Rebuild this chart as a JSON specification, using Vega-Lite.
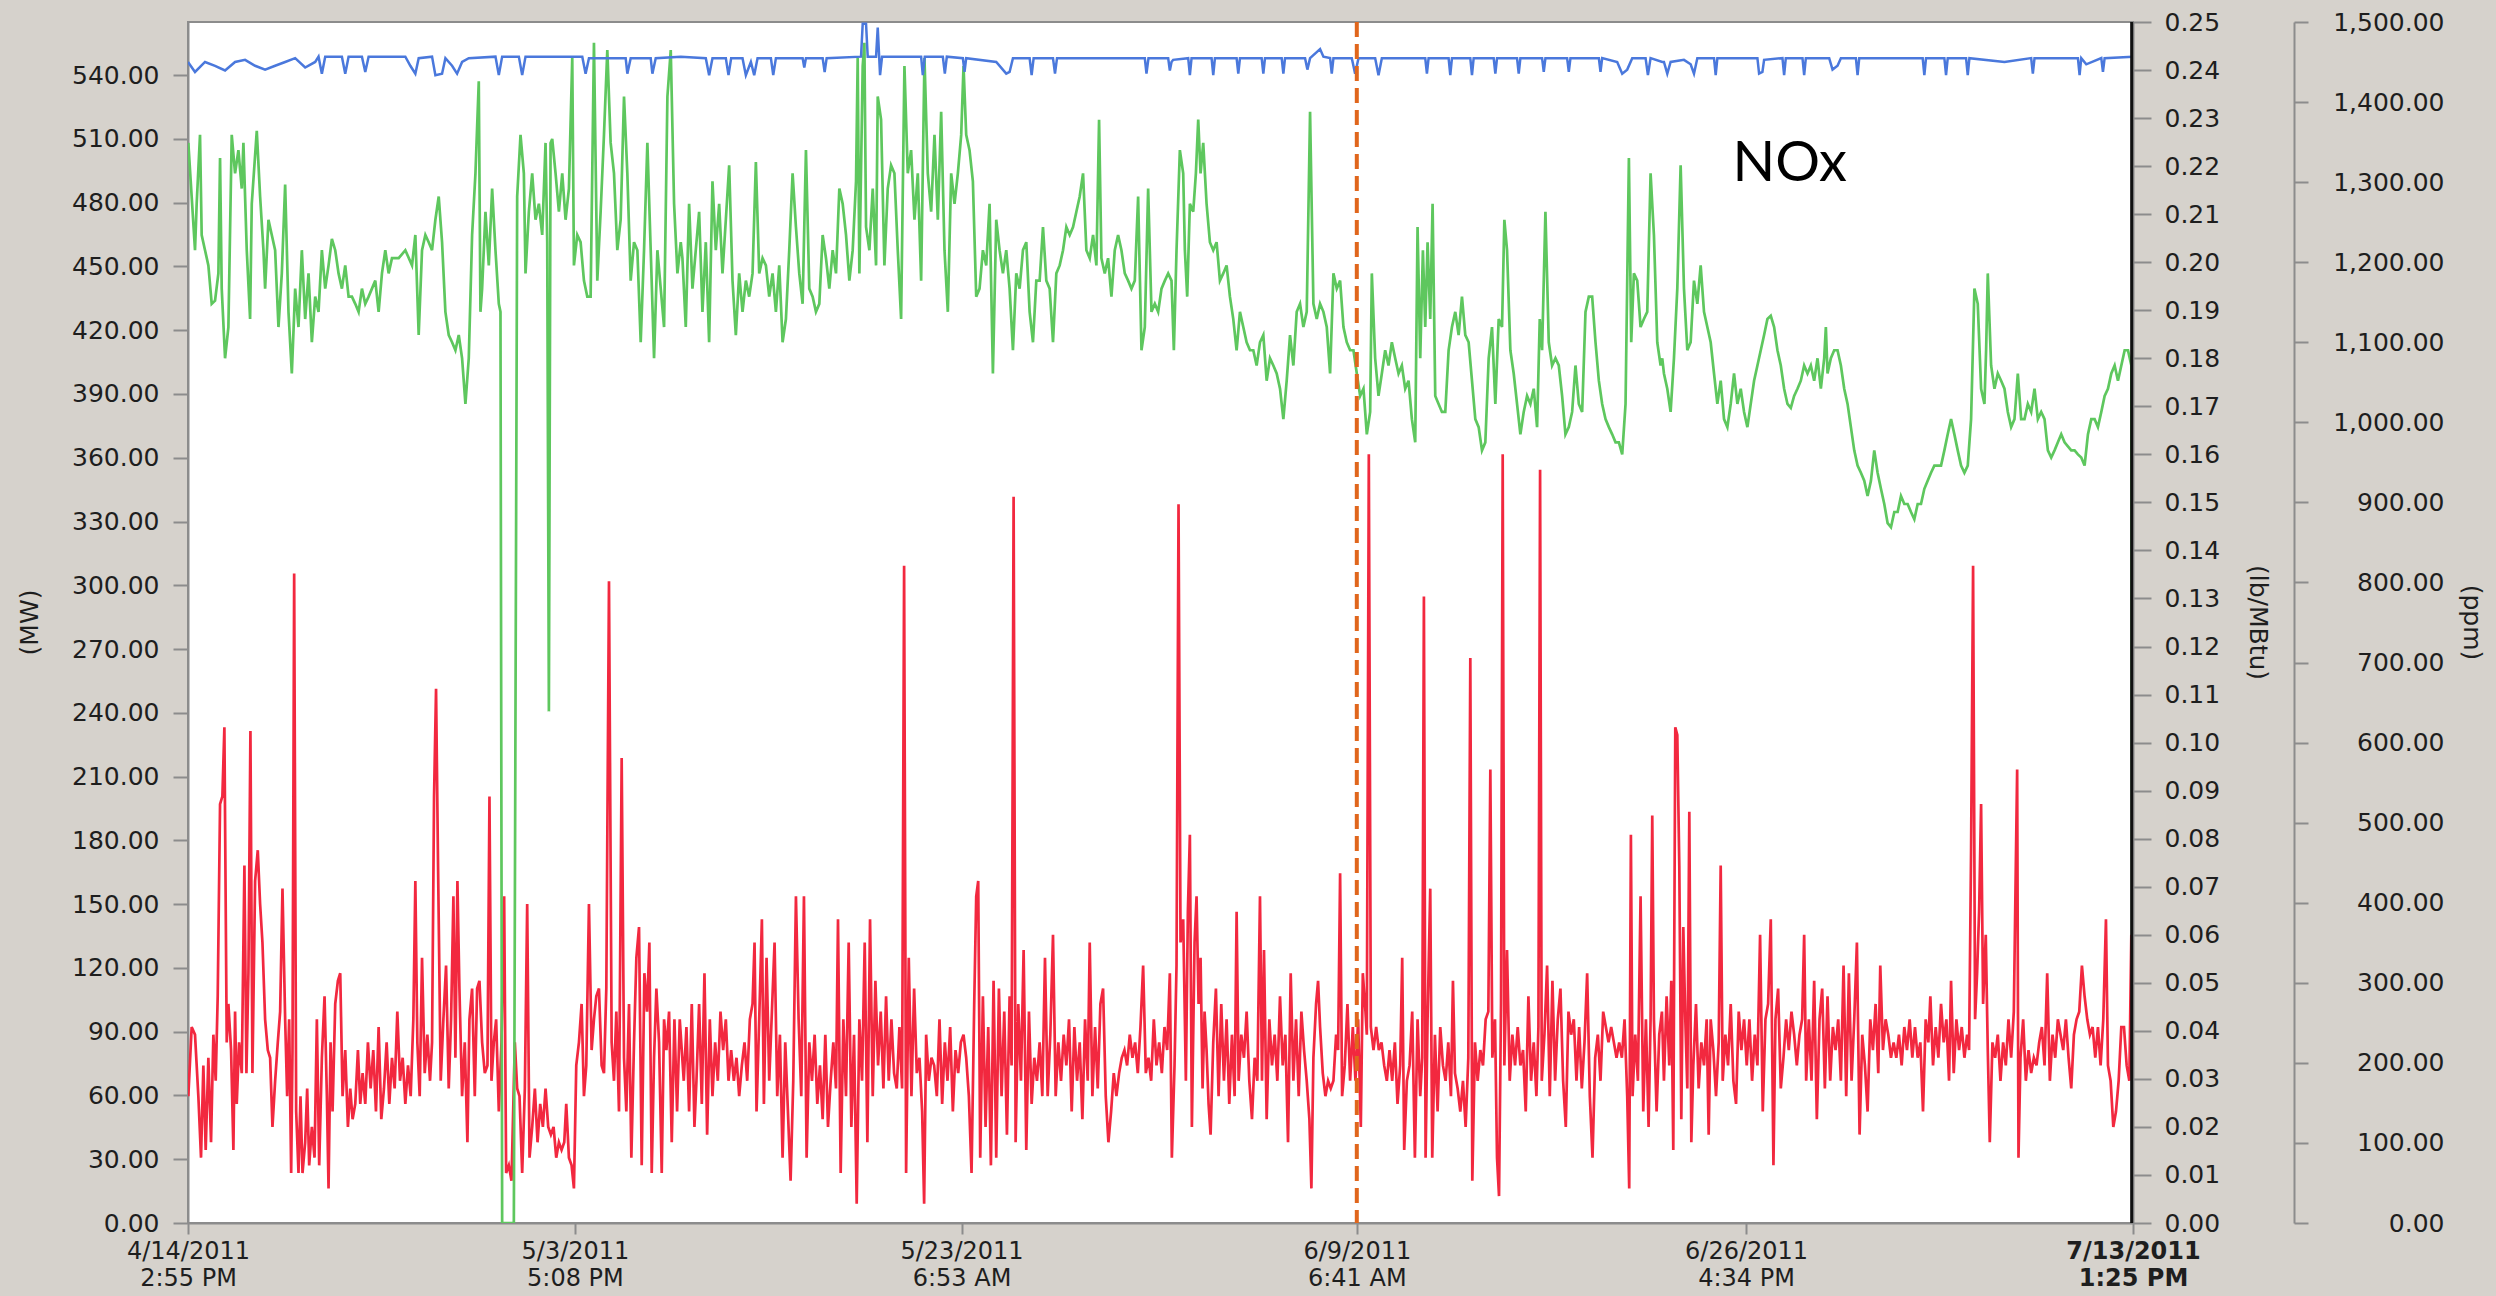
{
"$schema": "https://vega.github.io/schema/vega-lite/v6.json",
"width": 1945,
"height": 1201,
"autosize": {"type": "none"},
"padding": {"left": 188, "top": 22, "right": 363, "bottom": 73},
"background": "#d6d2cc",
"config": {
  "view": {"fill": "#ffffff", "stroke": "#8c8c8c", "strokeWidth": 2},
  "axis": {"domainColor": "#8c8c8c", "domainWidth": 2, "tickColor": "#8c8c8c", "tickWidth": 2, "labelColor": "#1e1e1e", "labelFont": "DejaVu Sans", "labelFontSize": 25, "titleFont": "DejaVu Sans", "titleFontSize": 25, "titleFontWeight": "normal", "titleColor": "#1e1e1e", "grid": false, "labelOverlap": false}
},
"datasets": {
"mw": [
{"n":0,"mw":546.2},{"n":21,"mw":541.5},{"n":51,"mw":546.2},{"n":81,"mw":544.4},{"n":111,"mw":542.2},{"n":141,"mw":546.2},{"n":171,"mw":547.2},{"n":201,"mw":544.4},{"n":231,"mw":542.6},{"n":261,"mw":544.4},{"n":291,"mw":546.2},{"n":321,"mw":548.0},{"n":351,"mw":543.6},{"n":381,"mw":546.2},{"n":391,"mw":548.7},{"n":401,"mw":540.7},{"n":411,"mw":548.7},{"n":461,"mw":548.7},{"n":471,"mw":540.7},{"n":481,"mw":548.7},{"n":521,"mw":548.7},{"n":531,"mw":541.5},{"n":541,"mw":548.7},{"n":651,"mw":548.7},{"n":666,"mw":544.4},{"n":681,"mw":540.7},{"n":691,"mw":548.0},{"n":731,"mw":548.7},{"n":741,"mw":540.0},{"n":761,"mw":540.7},{"n":771,"mw":548.0},{"n":791,"mw":544.4},{"n":806,"mw":540.7},{"n":821,"mw":546.2},{"n":841,"mw":548.0},{"n":921,"mw":548.7},{"n":931,"mw":540.0},{"n":941,"mw":548.7},{"n":991,"mw":548.7},{"n":1001,"mw":540.0},{"n":1011,"mw":548.7},{"n":1181,"mw":548.7},{"n":1191,"mw":540.7},{"n":1201,"mw":548.0},{"n":1311,"mw":548.0},{"n":1316,"mw":540.7},{"n":1326,"mw":548.0},{"n":1386,"mw":548.0},{"n":1391,"mw":540.7},{"n":1401,"mw":548.0},{"n":1476,"mw":548.7},
{"n":1551,"mw":548.0},{"n":1561,"mw":540.0},{"n":1571,"mw":548.0},{"n":1611,"mw":548.0},{"n":1619,"mw":540.0},{"n":1627,"mw":548.0},{"n":1661,"mw":548.0},{"n":1671,"mw":540.0},{"n":1686,"mw":546.2},{"n":1696,"mw":540.0},{"n":1706,"mw":548.0},{"n":1746,"mw":548.0},{"n":1753,"mw":540.0},{"n":1761,"mw":548.0},{"n":1841,"mw":548.0},{"n":1846,"mw":543.6},{"n":1851,"mw":548.0},{"n":1901,"mw":548.0},{"n":1907,"mw":541.5},{"n":1913,"mw":548.0},{"n":2016,"mw":548.7},{"n":2021,"mw":564.2},{"n":2031,"mw":564.2},{"n":2036,"mw":548.7},{"n":2061,"mw":548.7},{"n":2066,"mw":562.4},{"n":2073,"mw":540.0},{"n":2079,"mw":548.7},{"n":2196,"mw":548.7},{"n":2201,"mw":540.0},{"n":2207,"mw":548.7},{"n":2261,"mw":548.7},{"n":2267,"mw":540.7},{"n":2273,"mw":548.7},{"n":2321,"mw":548.0},{"n":2326,"mw":541.5},{"n":2331,"mw":548.0},{"n":2421,"mw":546.2},{"n":2451,"mw":540.7},{"n":2461,"mw":541.5},{"n":2471,"mw":548.0},{"n":2521,"mw":548.0},{"n":2527,"mw":540.0},{"n":2533,"mw":548.0},{"n":2591,"mw":548.0},{"n":2597,"mw":540.7},{"n":2603,"mw":548.0},{"n":2866,"mw":548.0},{"n":2871,"mw":540.7},{"n":2877,"mw":548.0},{"n":2936,"mw":548.0},{"n":2941,"mw":542.2},{"n":2946,"mw":546.2},
{"n":2951,"mw":547.2},{"n":2996,"mw":548.0},{"n":3001,"mw":540.0},{"n":3006,"mw":548.0},{"n":3066,"mw":548.0},{"n":3071,"mw":540.0},{"n":3076,"mw":548.0},{"n":3141,"mw":548.0},{"n":3146,"mw":540.7},{"n":3151,"mw":548.0},{"n":3216,"mw":548.0},{"n":3221,"mw":540.7},{"n":3226,"mw":548.0},{"n":3276,"mw":548.0},{"n":3281,"mw":540.7},{"n":3286,"mw":548.0},{"n":3346,"mw":548.0},{"n":3353,"mw":542.6},{"n":3361,"mw":548.0},{"n":3391,"mw":552.3},{"n":3401,"mw":548.7},{"n":3421,"mw":548.0},{"n":3426,"mw":540.7},{"n":3431,"mw":548.0},{"n":3486,"mw":548.0},{"n":3496,"mw":540.7},{"n":3506,"mw":548.0},{"n":3556,"mw":548.0},{"n":3566,"mw":540.0},{"n":3576,"mw":548.0},{"n":3706,"mw":548.0},{"n":3711,"mw":540.7},{"n":3716,"mw":548.0},{"n":3776,"mw":548.0},{"n":3781,"mw":540.0},{"n":3786,"mw":548.0},{"n":3841,"mw":548.0},{"n":3846,"mw":540.0},{"n":3851,"mw":548.0},{"n":3911,"mw":548.0},{"n":3916,"mw":540.7},{"n":3921,"mw":548.0},{"n":3981,"mw":548.0},{"n":3986,"mw":540.7},{"n":3991,"mw":548.0},{"n":4056,"mw":548.0},{"n":4061,"mw":541.5},{"n":4066,"mw":548.0},{"n":4131,"mw":548.0},{"n":4136,"mw":541.5},{"n":4141,"mw":548.0},{"n":4226,"mw":548.0},{"n":4231,"mw":541.5},{"n":4236,"mw":548.0},{"n":4281,"mw":546.2},{"n":4296,"mw":540.7},{"n":4311,"mw":542.6},{"n":4326,"mw":548.0},{"n":4366,"mw":548.0},{"n":4373,"mw":540.0},{"n":4381,"mw":548.0},{"n":4416,"mw":546.2},
{"n":4421,"mw":546.2},{"n":4431,"mw":540.7},{"n":4441,"mw":546.2},{"n":4481,"mw":547.2},{"n":4501,"mw":545.1},{"n":4511,"mw":540.7},{"n":4521,"mw":548.0},{"n":4571,"mw":548.0},{"n":4576,"mw":540.0},{"n":4581,"mw":548.0},{"n":4701,"mw":548.0},{"n":4706,"mw":540.7},{"n":4716,"mw":541.5},{"n":4721,"mw":547.2},{"n":4776,"mw":548.0},{"n":4781,"mw":540.0},{"n":4786,"mw":548.0},{"n":4836,"mw":548.0},{"n":4841,"mw":540.0},{"n":4846,"mw":548.0},{"n":4916,"mw":548.0},{"n":4926,"mw":542.6},{"n":4941,"mw":544.4},{"n":4951,"mw":548.0},{"n":4996,"mw":548.0},{"n":5001,"mw":540.0},{"n":5006,"mw":548.0},{"n":5196,"mw":548.0},{"n":5201,"mw":540.0},{"n":5206,"mw":548.0},{"n":5261,"mw":548.0},{"n":5266,"mw":540.0},{"n":5271,"mw":548.0},{"n":5326,"mw":548.0},{"n":5331,"mw":540.0},{"n":5336,"mw":548.0},{"n":5441,"mw":546.2},{"n":5521,"mw":548.0},{"n":5526,"mw":540.7},{"n":5531,"mw":548.0},{"n":5661,"mw":548.0},{"n":5666,"mw":540.0},{"n":5671,"mw":548.0},{"n":5686,"mw":545.1},{"n":5731,"mw":548.0},{"n":5736,"mw":541.5},{"n":5741,"mw":548.0},{"n":5826,"mw":548.7}
],
"ppm": [
{"n":1,"ppm":1349},{"n":11,"ppm":1282},{"n":21,"ppm":1215},{"n":26,"ppm":1273},{"n":36,"ppm":1359},{"n":41,"ppm":1234},{"n":51,"ppm":1215},{"n":61,"ppm":1196},{"n":71,"ppm":1148},{"n":81,"ppm":1152},{"n":91,"ppm":1186},{"n":96,"ppm":1330},{"n":101,"ppm":1167},{"n":111,"ppm":1080},{"n":121,"ppm":1119},{"n":131,"ppm":1359},{"n":141,"ppm":1311},{"n":151,"ppm":1340},{"n":161,"ppm":1292},{"n":166,"ppm":1349},{"n":176,"ppm":1215},{"n":186,"ppm":1129},{"n":191,"ppm":1273},{"n":206,"ppm":1364},{"n":216,"ppm":1282},{"n":226,"ppm":1215},{"n":231,"ppm":1167},{"n":241,"ppm":1253},{"n":251,"ppm":1234},{"n":261,"ppm":1215},{"n":271,"ppm":1119},{"n":281,"ppm":1186},{"n":291,"ppm":1297},{"n":301,"ppm":1138},{"n":311,"ppm":1061},{"n":321,"ppm":1167},{"n":331,"ppm":1119},{"n":341,"ppm":1215},{"n":351,"ppm":1129},{"n":361,"ppm":1186},{"n":371,"ppm":1100},{"n":381,"ppm":1157},{"n":391,"ppm":1138},{"n":401,"ppm":1215},{"n":411,"ppm":1167},{"n":421,"ppm":1196},{"n":431,"ppm":1229},{"n":441,"ppm":1215},{"n":451,"ppm":1186},{"n":461,"ppm":1167},{"n":471,"ppm":1196},{"n":481,"ppm":1157},{"n":491,"ppm":1157},{"n":501,"ppm":1148},{"n":511,"ppm":1138},{"n":521,"ppm":1167},{"n":531,"ppm":1148},{"n":541,"ppm":1157},{"n":551,"ppm":1167},{"n":561,"ppm":1177},{"n":571,"ppm":1138},{"n":581,"ppm":1186},{"n":591,"ppm":1215},{"n":601,"ppm":1186},{"n":611,"ppm":1205},{"n":631,"ppm":1205},{"n":651,"ppm":1215},{"n":671,"ppm":1196},{"n":681,"ppm":1234},{"n":691,"ppm":1109},{"n":701,"ppm":1215},{"n":711,"ppm":1234},{"n":721,"ppm":1225},{"n":731,"ppm":1215},{"n":741,"ppm":1253},{"n":751,"ppm":1282},{"n":761,"ppm":1225},{"n":771,"ppm":1138},{"n":781,"ppm":1109},{"n":791,"ppm":1100},{"n":801,"ppm":1090},{"n":811,"ppm":1109},{"n":821,"ppm":1080},{"n":831,"ppm":1023},{"n":841,"ppm":1080},{"n":851,"ppm":1234},{"n":861,"ppm":1311},{"n":871,"ppm":1426},{"n":876,"ppm":1138},{"n":881,"ppm":1167},{"n":891,"ppm":1263},{"n":901,"ppm":1196},{"n":911,"ppm":1292},{"n":921,"ppm":1215},{"n":931,"ppm":1148},{"n":936,"ppm":1138},{"n":941,"ppm":0},{"n":976,"ppm":0},{"n":986,"ppm":1282},{"n":996,"ppm":1359},{"n":1006,"ppm":1311},{"n":1011,"ppm":1186},{"n":1021,"ppm":1263},{"n":1031,"ppm":1311},{"n":1041,"ppm":1253},{"n":1051,"ppm":1273},{"n":1061,"ppm":1234},{"n":1071,"ppm":1349},{"n":1076,"ppm":1225},{"n":1081,"ppm":639},{"n":1086,"ppm":1349},{"n":1091,"ppm":1354},{"n":1101,"ppm":1311},{"n":1111,"ppm":1263},{"n":1121,"ppm":1311},{"n":1131,"ppm":1253},{"n":1141,"ppm":1292},{"n":1151,"ppm":1455},{"n":1156,"ppm":1196},{"n":1166,"ppm":1234},{"n":1176,"ppm":1225},{"n":1186,"ppm":1177},{"n":1196,"ppm":1157},{"n":1206,"ppm":1157},{"n":1216,"ppm":1474},{"n":1226,"ppm":1177},{"n":1236,"ppm":1263},{"n":1246,"ppm":1359},{"n":1256,"ppm":1465},{"n":1266,"ppm":1349},{"n":1276,"ppm":1311},{"n":1286,"ppm":1215},{"n":1296,"ppm":1253},{"n":1306,"ppm":1407},{"n":1316,"ppm":1311},{"n":1326,"ppm":1177},{"n":1336,"ppm":1225},{"n":1346,"ppm":1215},{"n":1356,"ppm":1100},{"n":1366,"ppm":1215},{"n":1376,"ppm":1349},{"n":1386,"ppm":1215},{"n":1396,"ppm":1080},{"n":1406,"ppm":1215},{"n":1416,"ppm":1167},{"n":1426,"ppm":1119},{"n":1436,"ppm":1407},{"n":1446,"ppm":1465},{"n":1456,"ppm":1273},{"n":1466,"ppm":1186},{"n":1476,"ppm":1225},
{"n":1481,"ppm":1205},{"n":1491,"ppm":1119},{"n":1501,"ppm":1273},{"n":1511,"ppm":1167},{"n":1521,"ppm":1215},{"n":1531,"ppm":1263},{"n":1541,"ppm":1138},{"n":1551,"ppm":1225},{"n":1561,"ppm":1100},{"n":1571,"ppm":1301},{"n":1581,"ppm":1215},{"n":1591,"ppm":1273},{"n":1601,"ppm":1186},{"n":1611,"ppm":1253},{"n":1621,"ppm":1321},{"n":1631,"ppm":1177},{"n":1641,"ppm":1109},{"n":1651,"ppm":1186},{"n":1661,"ppm":1138},{"n":1671,"ppm":1177},{"n":1681,"ppm":1157},{"n":1691,"ppm":1186},{"n":1701,"ppm":1325},{"n":1711,"ppm":1186},{"n":1721,"ppm":1205},{"n":1731,"ppm":1196},{"n":1741,"ppm":1157},{"n":1751,"ppm":1186},{"n":1761,"ppm":1138},{"n":1771,"ppm":1196},{"n":1781,"ppm":1100},{"n":1791,"ppm":1129},{"n":1801,"ppm":1215},{"n":1811,"ppm":1311},{"n":1821,"ppm":1244},{"n":1831,"ppm":1186},{"n":1841,"ppm":1148},{"n":1851,"ppm":1340},{"n":1861,"ppm":1167},{"n":1871,"ppm":1157},{"n":1881,"ppm":1138},{"n":1891,"ppm":1148},{"n":1901,"ppm":1234},{"n":1911,"ppm":1205},{"n":1921,"ppm":1167},{"n":1931,"ppm":1215},{"n":1941,"ppm":1186},{"n":1951,"ppm":1292},{"n":1961,"ppm":1273},{"n":1971,"ppm":1234},{"n":1981,"ppm":1177},{"n":1991,"ppm":1215},{"n":2001,"ppm":1301},{"n":2006,"ppm":1455},{"n":2011,"ppm":1186},{"n":2021,"ppm":1445},{"n":2026,"ppm":1474},{"n":2031,"ppm":1244},{"n":2041,"ppm":1215},{"n":2051,"ppm":1292},{"n":2061,"ppm":1196},{"n":2066,"ppm":1407},{"n":2076,"ppm":1378},{"n":2086,"ppm":1196},{"n":2096,"ppm":1292},{"n":2106,"ppm":1321},{"n":2116,"ppm":1311},{"n":2126,"ppm":1215},{"n":2136,"ppm":1129},{"n":2146,"ppm":1445},{"n":2156,"ppm":1311},{"n":2166,"ppm":1340},{"n":2176,"ppm":1253},{"n":2186,"ppm":1311},{"n":2196,"ppm":1177},{"n":2206,"ppm":1455},{"n":2216,"ppm":1311},{"n":2226,"ppm":1263},{"n":2236,"ppm":1359},{"n":2246,"ppm":1253},{"n":2256,"ppm":1388},{"n":2266,"ppm":1215},{"n":2276,"ppm":1138},{"n":2286,"ppm":1311},{"n":2296,"ppm":1273},{"n":2306,"ppm":1311},{"n":2316,"ppm":1359},{"n":2323,"ppm":1445},{"n":2331,"ppm":1359},{"n":2341,"ppm":1340},{"n":2351,"ppm":1301},{"n":2361,"ppm":1157},{"n":2371,"ppm":1167},{"n":2381,"ppm":1215},{"n":2391,"ppm":1196},{"n":2401,"ppm":1273},{"n":2411,"ppm":1061},{"n":2421,"ppm":1253},{"n":2431,"ppm":1215},{"n":2441,"ppm":1186},{"n":2451,"ppm":1215},{"n":2461,"ppm":1167},{"n":2471,"ppm":1090},{"n":2481,"ppm":1186},{"n":2491,"ppm":1167},{"n":2501,"ppm":1215},{"n":2511,"ppm":1225},{"n":2521,"ppm":1138},{"n":2531,"ppm":1100},{"n":2541,"ppm":1177},{"n":2551,"ppm":1177},{"n":2561,"ppm":1244},{"n":2571,"ppm":1177},{"n":2581,"ppm":1167},{"n":2591,"ppm":1100},{"n":2601,"ppm":1186},{"n":2611,"ppm":1196},{"n":2621,"ppm":1215},{"n":2631,"ppm":1244},{"n":2641,"ppm":1234},{"n":2651,"ppm":1244},{"n":2661,"ppm":1263},{"n":2671,"ppm":1282},{"n":2681,"ppm":1311},{"n":2691,"ppm":1215},{"n":2701,"ppm":1205},{"n":2711,"ppm":1234},{"n":2721,"ppm":1196},{"n":2729,"ppm":1378},{"n":2736,"ppm":1205},{"n":2746,"ppm":1186},{"n":2756,"ppm":1205},{"n":2766,"ppm":1157},{"n":2776,"ppm":1215},{"n":2786,"ppm":1234},{"n":2796,"ppm":1215},{"n":2806,"ppm":1186},{"n":2816,"ppm":1177},{"n":2826,"ppm":1167},{"n":2836,"ppm":1177},{"n":2846,"ppm":1282},{"n":2856,"ppm":1090},{"n":2866,"ppm":1119},{"n":2876,"ppm":1292},{"n":2886,"ppm":1138},{"n":2896,"ppm":1148},{"n":2906,"ppm":1138},{"n":2916,"ppm":1167},{"n":2926,"ppm":1177},{"n":2936,"ppm":1186},{"n":2946,"ppm":1177},
{"n":2953,"ppm":1090},{"n":2961,"ppm":1215},{"n":2971,"ppm":1340},{"n":2981,"ppm":1311},{"n":2986,"ppm":1215},{"n":2993,"ppm":1157},{"n":3001,"ppm":1273},{"n":3011,"ppm":1263},{"n":3019,"ppm":1311},{"n":3026,"ppm":1378},{"n":3033,"ppm":1311},{"n":3041,"ppm":1349},{"n":3051,"ppm":1273},{"n":3061,"ppm":1225},{"n":3071,"ppm":1215},{"n":3081,"ppm":1225},{"n":3091,"ppm":1177},{"n":3101,"ppm":1186},{"n":3111,"ppm":1196},{"n":3121,"ppm":1157},{"n":3131,"ppm":1129},{"n":3141,"ppm":1090},{"n":3151,"ppm":1138},{"n":3161,"ppm":1119},{"n":3171,"ppm":1100},{"n":3181,"ppm":1090},{"n":3191,"ppm":1090},{"n":3201,"ppm":1071},{"n":3211,"ppm":1100},{"n":3221,"ppm":1109},{"n":3231,"ppm":1052},{"n":3241,"ppm":1080},{"n":3251,"ppm":1071},{"n":3261,"ppm":1061},{"n":3271,"ppm":1042},{"n":3281,"ppm":1004},{"n":3291,"ppm":1052},{"n":3301,"ppm":1109},{"n":3311,"ppm":1071},{"n":3321,"ppm":1138},{"n":3331,"ppm":1148},{"n":3341,"ppm":1119},{"n":3351,"ppm":1138},{"n":3361,"ppm":1388},{"n":3371,"ppm":1148},{"n":3381,"ppm":1129},{"n":3391,"ppm":1148},{"n":3401,"ppm":1138},{"n":3411,"ppm":1119},{"n":3421,"ppm":1061},{"n":3431,"ppm":1186},{"n":3441,"ppm":1167},{"n":3451,"ppm":1177},{"n":3461,"ppm":1119},{"n":3471,"ppm":1100},{"n":3481,"ppm":1090},{"n":3491,"ppm":1090},{"n":3501,"ppm":1061},{"n":3511,"ppm":1033},{"n":3521,"ppm":1042},{"n":3531,"ppm":985},{"n":3541,"ppm":1013},{"n":3546,"ppm":1186},{"n":3556,"ppm":1080},{"n":3566,"ppm":1033},{"n":3576,"ppm":1061},{"n":3586,"ppm":1090},{"n":3596,"ppm":1071},{"n":3606,"ppm":1100},{"n":3616,"ppm":1080},{"n":3626,"ppm":1061},{"n":3636,"ppm":1071},{"n":3646,"ppm":1042},{"n":3656,"ppm":1052},{"n":3666,"ppm":1004},{"n":3676,"ppm":975},{"n":3683,"ppm":1244},{"n":3691,"ppm":1080},{"n":3699,"ppm":1215},{"n":3706,"ppm":1119},{"n":3713,"ppm":1225},{"n":3721,"ppm":1129},{"n":3728,"ppm":1273},{"n":3736,"ppm":1033},{"n":3746,"ppm":1023},{"n":3756,"ppm":1013},{"n":3766,"ppm":1013},{"n":3776,"ppm":1090},{"n":3786,"ppm":1119},{"n":3796,"ppm":1138},{"n":3806,"ppm":1109},{"n":3816,"ppm":1157},{"n":3826,"ppm":1109},{"n":3836,"ppm":1100},{"n":3846,"ppm":1052},{"n":3856,"ppm":1004},{"n":3866,"ppm":994},{"n":3876,"ppm":965},{"n":3886,"ppm":975},{"n":3896,"ppm":1080},{"n":3906,"ppm":1119},{"n":3916,"ppm":1023},{"n":3926,"ppm":1129},{"n":3936,"ppm":1119},{"n":3943,"ppm":1253},{"n":3951,"ppm":1215},{"n":3961,"ppm":1090},{"n":3971,"ppm":1061},{"n":3981,"ppm":1023},{"n":3991,"ppm":985},{"n":4001,"ppm":1013},{"n":4011,"ppm":1033},{"n":4021,"ppm":1023},{"n":4031,"ppm":1042},{"n":4041,"ppm":994},{"n":4049,"ppm":1129},{"n":4056,"ppm":1090},{"n":4066,"ppm":1263},{"n":4076,"ppm":1100},{"n":4086,"ppm":1071},{"n":4096,"ppm":1080},{"n":4106,"ppm":1071},{"n":4116,"ppm":1033},{"n":4126,"ppm":985},{"n":4136,"ppm":994},{"n":4146,"ppm":1013},{"n":4156,"ppm":1071},{"n":4166,"ppm":1023},{"n":4176,"ppm":1013},{"n":4186,"ppm":1138},{"n":4196,"ppm":1157},{"n":4206,"ppm":1157},{"n":4216,"ppm":1100},{"n":4226,"ppm":1052},{"n":4236,"ppm":1023},{"n":4246,"ppm":1004},{"n":4256,"ppm":994},{"n":4266,"ppm":985},{"n":4276,"ppm":975},{"n":4286,"ppm":975},{"n":4296,"ppm":960},{"n":4306,"ppm":1023},{"n":4316,"ppm":1330},{"n":4323,"ppm":1100},{"n":4331,"ppm":1186},{"n":4341,"ppm":1177},{"n":4351,"ppm":1119},{"n":4361,"ppm":1129},{"n":4371,"ppm":1138},{"n":4381,"ppm":1311},{"n":4391,"ppm":1234},{"n":4401,"ppm":1100},{"n":4411,"ppm":1071},{"n":4416,"ppm":1080},
{"n":4421,"ppm":1061},{"n":4431,"ppm":1042},{"n":4441,"ppm":1013},{"n":4451,"ppm":1080},{"n":4461,"ppm":1167},{"n":4471,"ppm":1321},{"n":4481,"ppm":1167},{"n":4491,"ppm":1090},{"n":4501,"ppm":1100},{"n":4511,"ppm":1177},{"n":4521,"ppm":1148},{"n":4531,"ppm":1196},{"n":4541,"ppm":1138},{"n":4551,"ppm":1119},{"n":4561,"ppm":1100},{"n":4571,"ppm":1061},{"n":4581,"ppm":1023},{"n":4591,"ppm":1052},{"n":4601,"ppm":1004},{"n":4611,"ppm":994},{"n":4621,"ppm":1023},{"n":4631,"ppm":1061},{"n":4641,"ppm":1023},{"n":4651,"ppm":1042},{"n":4661,"ppm":1013},{"n":4671,"ppm":994},{"n":4681,"ppm":1023},{"n":4691,"ppm":1052},{"n":4701,"ppm":1071},{"n":4711,"ppm":1090},{"n":4721,"ppm":1109},{"n":4731,"ppm":1129},{"n":4741,"ppm":1133},{"n":4751,"ppm":1119},{"n":4761,"ppm":1090},{"n":4771,"ppm":1071},{"n":4781,"ppm":1042},{"n":4791,"ppm":1023},{"n":4801,"ppm":1018},{"n":4811,"ppm":1033},{"n":4821,"ppm":1042},{"n":4831,"ppm":1052},{"n":4841,"ppm":1071},{"n":4851,"ppm":1061},{"n":4861,"ppm":1071},{"n":4871,"ppm":1052},{"n":4881,"ppm":1080},{"n":4891,"ppm":1042},{"n":4901,"ppm":1080},{"n":4906,"ppm":1119},{"n":4911,"ppm":1061},{"n":4921,"ppm":1080},{"n":4931,"ppm":1090},{"n":4941,"ppm":1090},{"n":4951,"ppm":1071},{"n":4961,"ppm":1042},{"n":4971,"ppm":1023},{"n":4981,"ppm":994},{"n":4991,"ppm":965},{"n":5001,"ppm":946},{"n":5011,"ppm":937},{"n":5021,"ppm":927},{"n":5031,"ppm":908},{"n":5041,"ppm":927},{"n":5051,"ppm":965},{"n":5061,"ppm":937},{"n":5071,"ppm":917},{"n":5081,"ppm":898},{"n":5091,"ppm":874},{"n":5101,"ppm":869},{"n":5111,"ppm":888},{"n":5121,"ppm":888},{"n":5131,"ppm":908},{"n":5141,"ppm":898},{"n":5151,"ppm":898},{"n":5161,"ppm":888},{"n":5171,"ppm":879},{"n":5181,"ppm":898},{"n":5191,"ppm":898},{"n":5201,"ppm":917},{"n":5211,"ppm":927},{"n":5221,"ppm":937},{"n":5231,"ppm":946},{"n":5241,"ppm":946},{"n":5251,"ppm":946},{"n":5261,"ppm":965},{"n":5271,"ppm":985},{"n":5281,"ppm":1004},{"n":5291,"ppm":985},{"n":5301,"ppm":965},{"n":5311,"ppm":946},{"n":5321,"ppm":937},{"n":5331,"ppm":946},{"n":5341,"ppm":1004},{"n":5351,"ppm":1167},{"n":5361,"ppm":1148},{"n":5371,"ppm":1042},{"n":5381,"ppm":1023},{"n":5386,"ppm":1090},{"n":5391,"ppm":1186},{"n":5401,"ppm":1071},{"n":5411,"ppm":1042},{"n":5421,"ppm":1061},{"n":5431,"ppm":1052},{"n":5441,"ppm":1042},{"n":5451,"ppm":1013},{"n":5461,"ppm":994},{"n":5471,"ppm":1004},{"n":5481,"ppm":1061},{"n":5491,"ppm":1004},{"n":5501,"ppm":1004},{"n":5511,"ppm":1023},{"n":5521,"ppm":1013},{"n":5531,"ppm":1042},{"n":5541,"ppm":1004},{"n":5551,"ppm":1013},{"n":5561,"ppm":1004},{"n":5571,"ppm":965},{"n":5581,"ppm":956},{"n":5591,"ppm":965},{"n":5601,"ppm":975},{"n":5611,"ppm":985},{"n":5621,"ppm":975},{"n":5631,"ppm":970},{"n":5641,"ppm":965},{"n":5651,"ppm":965},{"n":5661,"ppm":960},{"n":5671,"ppm":956},{"n":5681,"ppm":946},{"n":5691,"ppm":985},{"n":5701,"ppm":1004},{"n":5711,"ppm":1004},{"n":5721,"ppm":994},{"n":5731,"ppm":1013},{"n":5741,"ppm":1033},{"n":5751,"ppm":1042},{"n":5761,"ppm":1061},{"n":5771,"ppm":1071},{"n":5781,"ppm":1052},{"n":5791,"ppm":1071},{"n":5801,"ppm":1090},{"n":5811,"ppm":1090},{"n":5821,"ppm":1071},{"n":5825,"ppm":0}
],
"lb": [
{"n":1,"lb":0.0264},{"n":11,"lb":0.0408},{"n":21,"lb":0.0392},{"n":31,"lb":0.0264},{"n":39,"lb":0.0136},{"n":46,"lb":0.0328},{"n":53,"lb":0.0152},{"n":61,"lb":0.0344},{"n":69,"lb":0.0168},{"n":76,"lb":0.0392},{"n":83,"lb":0.0296},{"n":89,"lb":0.0472},{"n":96,"lb":0.0872},{"n":103,"lb":0.0888},{"n":109,"lb":0.1032},{"n":116,"lb":0.0376},{"n":121,"lb":0.0456},{"n":129,"lb":0.036},{"n":136,"lb":0.0152},{"n":141,"lb":0.044},{"n":146,"lb":0.0248},{"n":153,"lb":0.0376},{"n":161,"lb":0.0312},{"n":169,"lb":0.0744},{"n":175,"lb":0.0312},{"n":181,"lb":0.052},{"n":187,"lb":0.1024},{"n":193,"lb":0.0312},{"n":201,"lb":0.0712},{"n":209,"lb":0.0776},{"n":216,"lb":0.0664},{"n":223,"lb":0.0584},{"n":231,"lb":0.0424},{"n":239,"lb":0.036},{"n":246,"lb":0.0344},{"n":253,"lb":0.02},{"n":261,"lb":0.0296},{"n":269,"lb":0.0376},{"n":276,"lb":0.044},{"n":283,"lb":0.0696},{"n":291,"lb":0.0424},{"n":297,"lb":0.0264},{"n":303,"lb":0.0424},{"n":309,"lb":0.0104},{"n":313,"lb":0.036},{"n":318,"lb":0.1352},{"n":324,"lb":0.0232},{"n":331,"lb":0.0104},{"n":337,"lb":0.0264},{"n":343,"lb":0.0104},{"n":351,"lb":0.0168},{"n":357,"lb":0.028},{"n":363,"lb":0.012},{"n":371,"lb":0.02},{"n":379,"lb":0.0136},{"n":386,"lb":0.0424},{"n":393,"lb":0.012},{"n":401,"lb":0.0344},{"n":409,"lb":0.0472},{"n":416,"lb":0.0264},{"n":421,"lb":0.0072},{"n":427,"lb":0.0376},{"n":433,"lb":0.0232},{"n":441,"lb":0.0456},{"n":449,"lb":0.0504},{"n":456,"lb":0.052},{"n":463,"lb":0.0264},{"n":471,"lb":0.036},{"n":479,"lb":0.02},{"n":486,"lb":0.028},{"n":493,"lb":0.0216},{"n":501,"lb":0.0248},{"n":509,"lb":0.036},{"n":516,"lb":0.0248},{"n":523,"lb":0.0312},{"n":531,"lb":0.0248},{"n":539,"lb":0.0376},{"n":547,"lb":0.028},{"n":555,"lb":0.036},{"n":563,"lb":0.0232},{"n":571,"lb":0.0408},{"n":579,"lb":0.0216},{"n":587,"lb":0.028},{"n":595,"lb":0.0376},{"n":603,"lb":0.0248},{"n":611,"lb":0.0344},{"n":619,"lb":0.028},{"n":627,"lb":0.044},{"n":635,"lb":0.0296},{"n":643,"lb":0.0344},{"n":651,"lb":0.0248},{"n":659,"lb":0.0328},{"n":667,"lb":0.0264},{"n":675,"lb":0.0424},{"n":681,"lb":0.0712},{"n":687,"lb":0.0376},{"n":694,"lb":0.0264},{"n":701,"lb":0.0552},{"n":709,"lb":0.0312},{"n":717,"lb":0.0392},{"n":725,"lb":0.0296},{"n":731,"lb":0.0376},{"n":737,"lb":0.0888},{"n":743,"lb":0.1112},{"n":749,"lb":0.0744},{"n":757,"lb":0.0296},{"n":765,"lb":0.0424},{"n":773,"lb":0.0536},{"n":781,"lb":0.028},{"n":788,"lb":0.0424},{"n":795,"lb":0.068},{"n":801,"lb":0.0344},{"n":807,"lb":0.0712},{"n":813,"lb":0.0488},{"n":821,"lb":0.0264},{"n":829,"lb":0.0376},{"n":837,"lb":0.0168},{"n":843,"lb":0.0424},{"n":851,"lb":0.0488},{"n":859,"lb":0.0264},{"n":866,"lb":0.0488},{"n":873,"lb":0.0504},{"n":881,"lb":0.0376},{"n":889,"lb":0.0312},{"n":897,"lb":0.0328},{"n":903,"lb":0.0888},{"n":909,"lb":0.0296},{"n":916,"lb":0.0376},{"n":923,"lb":0.0424},{"n":931,"lb":0.0232},{"n":939,"lb":0.0376},{"n":947,"lb":0.068},{"n":953,"lb":0.0104},{"n":961,"lb":0.012},{"n":969,"lb":0.0088},{"n":979,"lb":0.0376},{"n":986,"lb":0.028},{"n":993,"lb":0.0264},{"n":1001,"lb":0.0104},{"n":1009,"lb":0.028},{"n":1016,"lb":0.0664},{"n":1023,"lb":0.0136},{"n":1031,"lb":0.02},{"n":1039,"lb":0.028},{"n":1047,"lb":0.0168},{"n":1055,"lb":0.0248},{"n":1063,"lb":0.02},{"n":1071,"lb":0.028},{"n":1079,"lb":0.02},{"n":1087,"lb":0.0184},{"n":1095,"lb":0.02},{"n":1103,"lb":0.0136},{"n":1111,"lb":0.0168},{"n":1119,"lb":0.0152},{"n":1127,"lb":0.0168},{"n":1133,"lb":0.0248},{"n":1141,"lb":0.0136},{"n":1149,"lb":0.012},{"n":1156,"lb":0.0072},{"n":1163,"lb":0.0328},{"n":1171,"lb":0.0376},{"n":1179,"lb":0.0456},{"n":1186,"lb":0.0264},{"n":1193,"lb":0.0328},{"n":1201,"lb":0.0664},{"n":1209,"lb":0.036},{"n":1216,"lb":0.0424},{"n":1223,"lb":0.0472},{"n":1231,"lb":0.0488},{"n":1239,"lb":0.0328},{"n":1246,"lb":0.0312},{"n":1253,"lb":0.0488},{"n":1261,"lb":0.1336},{"n":1269,"lb":0.0376},{"n":1276,"lb":0.0296},{"n":1283,"lb":0.044},{"n":1291,"lb":0.0232},{"n":1299,"lb":0.0968},{"n":1306,"lb":0.0344},{"n":1313,"lb":0.0232},{"n":1321,"lb":0.0456},{"n":1328,"lb":0.0136},{"n":1336,"lb":0.0376},{"n":1343,"lb":0.0552},{"n":1351,"lb":0.0616},{"n":1359,"lb":0.012},{"n":1367,"lb":0.052},{"n":1375,"lb":0.044},{"n":1382,"lb":0.0584},{"n":1389,"lb":0.0104},{"n":1396,"lb":0.0344},{"n":1403,"lb":0.0488},{"n":1411,"lb":0.0376},{"n":1419,"lb":0.0104},{"n":1426,"lb":0.0424},{"n":1433,"lb":0.036},{"n":1441,"lb":0.044},{"n":1449,"lb":0.0168},{"n":1457,"lb":0.0424},{"n":1465,"lb":0.0232},{"n":1473,"lb":0.0424},
{"n":1485,"lb":0.0296},{"n":1493,"lb":0.0408},{"n":1501,"lb":0.0232},{"n":1509,"lb":0.0456},{"n":1517,"lb":0.02},{"n":1523,"lb":0.0296},{"n":1531,"lb":0.0456},{"n":1539,"lb":0.0248},{"n":1547,"lb":0.052},{"n":1555,"lb":0.0184},{"n":1563,"lb":0.0424},{"n":1571,"lb":0.0264},{"n":1579,"lb":0.0376},{"n":1587,"lb":0.0296},{"n":1595,"lb":0.044},{"n":1603,"lb":0.036},{"n":1611,"lb":0.0424},{"n":1619,"lb":0.0296},{"n":1627,"lb":0.036},{"n":1635,"lb":0.0296},{"n":1643,"lb":0.0344},{"n":1651,"lb":0.0264},{"n":1659,"lb":0.0328},{"n":1667,"lb":0.0376},{"n":1675,"lb":0.0296},{"n":1683,"lb":0.0424},{"n":1691,"lb":0.0456},{"n":1697,"lb":0.0584},{"n":1703,"lb":0.0232},{"n":1711,"lb":0.0424},{"n":1719,"lb":0.0632},{"n":1725,"lb":0.0248},{"n":1733,"lb":0.0552},{"n":1741,"lb":0.0296},{"n":1749,"lb":0.044},{"n":1757,"lb":0.0584},{"n":1765,"lb":0.0264},{"n":1773,"lb":0.0392},{"n":1781,"lb":0.0136},{"n":1789,"lb":0.0376},{"n":1797,"lb":0.0232},{"n":1805,"lb":0.0088},{"n":1813,"lb":0.0296},{"n":1821,"lb":0.068},{"n":1829,"lb":0.0424},{"n":1837,"lb":0.0264},{"n":1845,"lb":0.068},{"n":1853,"lb":0.0136},{"n":1861,"lb":0.0376},{"n":1869,"lb":0.0296},{"n":1877,"lb":0.0392},{"n":1885,"lb":0.0248},{"n":1893,"lb":0.0328},{"n":1901,"lb":0.0216},{"n":1909,"lb":0.0392},{"n":1917,"lb":0.02},{"n":1925,"lb":0.0296},{"n":1933,"lb":0.0376},{"n":1941,"lb":0.028},{"n":1947,"lb":0.0632},{"n":1955,"lb":0.0104},{"n":1963,"lb":0.0424},{"n":1971,"lb":0.0264},{"n":1979,"lb":0.0584},{"n":1987,"lb":0.02},{"n":1995,"lb":0.0392},{"n":2003,"lb":0.004},{"n":2011,"lb":0.0424},{"n":2019,"lb":0.0296},{"n":2027,"lb":0.0584},{"n":2035,"lb":0.0168},{"n":2043,"lb":0.0632},{"n":2051,"lb":0.0264},{"n":2059,"lb":0.0504},{"n":2067,"lb":0.0328},{"n":2075,"lb":0.044},{"n":2083,"lb":0.028},{"n":2091,"lb":0.0472},{"n":2099,"lb":0.0296},{"n":2107,"lb":0.0424},{"n":2115,"lb":0.0312},{"n":2123,"lb":0.028},{"n":2131,"lb":0.0408},{"n":2139,"lb":0.028},{"n":2145,"lb":0.1368},{"n":2151,"lb":0.0104},{"n":2159,"lb":0.0552},{"n":2167,"lb":0.0264},{"n":2175,"lb":0.0488},{"n":2183,"lb":0.0312},{"n":2191,"lb":0.0344},{"n":2199,"lb":0.0232},{"n":2205,"lb":0.004},{"n":2211,"lb":0.0392},{"n":2219,"lb":0.0296},{"n":2227,"lb":0.0344},{"n":2235,"lb":0.0328},{"n":2243,"lb":0.0264},{"n":2251,"lb":0.0424},{"n":2259,"lb":0.0248},{"n":2267,"lb":0.0376},{"n":2275,"lb":0.0296},{"n":2283,"lb":0.0408},{"n":2291,"lb":0.0232},{"n":2299,"lb":0.036},{"n":2307,"lb":0.0312},{"n":2315,"lb":0.0376},{"n":2323,"lb":0.0392},{"n":2331,"lb":0.0344},{"n":2339,"lb":0.0264},{"n":2347,"lb":0.0104},{"n":2355,"lb":0.0456},{"n":2361,"lb":0.068},{"n":2367,"lb":0.0712},{"n":2373,"lb":0.0136},{"n":2381,"lb":0.0472},{"n":2389,"lb":0.02},{"n":2397,"lb":0.0408},{"n":2405,"lb":0.012},{"n":2413,"lb":0.0504},{"n":2421,"lb":0.0136},{"n":2429,"lb":0.0488},{"n":2437,"lb":0.0264},{"n":2445,"lb":0.044},{"n":2453,"lb":0.0184},{"n":2461,"lb":0.0472},{"n":2467,"lb":0.0328},{"n":2473,"lb":0.1512},{"n":2479,"lb":0.0168},{"n":2487,"lb":0.0456},{"n":2495,"lb":0.0296},{"n":2503,"lb":0.0568},{"n":2511,"lb":0.0152},{"n":2519,"lb":0.044},{"n":2527,"lb":0.0248},{"n":2535,"lb":0.0344},{"n":2543,"lb":0.0296},{"n":2551,"lb":0.0376},{"n":2559,"lb":0.0264},{"n":2567,"lb":0.0552},{"n":2575,"lb":0.0264},{"n":2583,"lb":0.0392},{"n":2591,"lb":0.06},{"n":2599,"lb":0.0264},{"n":2607,"lb":0.0376},{"n":2615,"lb":0.0296},{"n":2623,"lb":0.0392},{"n":2631,"lb":0.0328},{"n":2639,"lb":0.0424},{"n":2647,"lb":0.0232},{"n":2655,"lb":0.0408},{"n":2663,"lb":0.0296},{"n":2671,"lb":0.0376},{"n":2679,"lb":0.0216},{"n":2687,"lb":0.0424},{"n":2695,"lb":0.0296},{"n":2701,"lb":0.0584},{"n":2709,"lb":0.0264},{"n":2717,"lb":0.0408},{"n":2725,"lb":0.028},{"n":2733,"lb":0.0456},{"n":2741,"lb":0.0488},{"n":2749,"lb":0.0264},{"n":2757,"lb":0.0168},{"n":2765,"lb":0.0232},{"n":2773,"lb":0.0312},{"n":2781,"lb":0.0264},{"n":2789,"lb":0.0312},{"n":2797,"lb":0.0344},{"n":2805,"lb":0.036},{"n":2813,"lb":0.0328},{"n":2821,"lb":0.0392},{"n":2829,"lb":0.0344},{"n":2837,"lb":0.0376},{"n":2845,"lb":0.0312},{"n":2853,"lb":0.0408},{"n":2861,"lb":0.0536},{"n":2869,"lb":0.0312},{"n":2877,"lb":0.0344},{"n":2885,"lb":0.0296},{"n":2893,"lb":0.0424},{"n":2901,"lb":0.0328},{"n":2909,"lb":0.0376},{"n":2917,"lb":0.0312},{"n":2925,"lb":0.0408},{"n":2933,"lb":0.036},{"n":2941,"lb":0.052},
{"n":2947,"lb":0.0136},{"n":2955,"lb":0.0328},{"n":2961,"lb":0.0536},{"n":2967,"lb":0.1496},{"n":2973,"lb":0.0584},{"n":2981,"lb":0.0632},{"n":2989,"lb":0.0296},{"n":2995,"lb":0.0648},{"n":3001,"lb":0.0808},{"n":3007,"lb":0.02},{"n":3015,"lb":0.0584},{"n":3021,"lb":0.068},{"n":3027,"lb":0.0456},{"n":3033,"lb":0.0552},{"n":3039,"lb":0.028},{"n":3045,"lb":0.044},{"n":3051,"lb":0.036},{"n":3057,"lb":0.0248},{"n":3063,"lb":0.0184},{"n":3071,"lb":0.0376},{"n":3079,"lb":0.0488},{"n":3087,"lb":0.0264},{"n":3095,"lb":0.0456},{"n":3103,"lb":0.0296},{"n":3111,"lb":0.0424},{"n":3119,"lb":0.0248},{"n":3127,"lb":0.0392},{"n":3135,"lb":0.0264},{"n":3141,"lb":0.0648},{"n":3147,"lb":0.0296},{"n":3155,"lb":0.0392},{"n":3163,"lb":0.0344},{"n":3171,"lb":0.044},{"n":3179,"lb":0.0296},{"n":3187,"lb":0.0216},{"n":3195,"lb":0.0344},{"n":3203,"lb":0.0296},{"n":3211,"lb":0.068},{"n":3217,"lb":0.0296},{"n":3223,"lb":0.0568},{"n":3231,"lb":0.0216},{"n":3239,"lb":0.0424},{"n":3247,"lb":0.0328},{"n":3255,"lb":0.0392},{"n":3263,"lb":0.0296},{"n":3271,"lb":0.0472},{"n":3279,"lb":0.0328},{"n":3287,"lb":0.0392},{"n":3295,"lb":0.0168},{"n":3303,"lb":0.052},{"n":3311,"lb":0.0296},{"n":3319,"lb":0.0424},{"n":3327,"lb":0.0264},{"n":3335,"lb":0.044},{"n":3343,"lb":0.036},{"n":3351,"lb":0.0296},{"n":3359,"lb":0.0216},{"n":3365,"lb":0.0072},{"n":3371,"lb":0.0344},{"n":3379,"lb":0.0456},{"n":3385,"lb":0.0504},{"n":3391,"lb":0.0408},{"n":3399,"lb":0.0312},{"n":3407,"lb":0.0264},{"n":3415,"lb":0.0296},{"n":3423,"lb":0.028},{"n":3431,"lb":0.0296},{"n":3439,"lb":0.0392},{"n":3445,"lb":0.036},{"n":3451,"lb":0.0728},{"n":3457,"lb":0.0264},{"n":3465,"lb":0.0328},{"n":3473,"lb":0.0456},{"n":3481,"lb":0.0296},{"n":3489,"lb":0.0408},{"n":3497,"lb":0.0296},{"n":3505,"lb":0.0424},{"n":3513,"lb":0.02},{"n":3519,"lb":0.052},{"n":3527,"lb":0.044},{"n":3531,"lb":0.0392},{"n":3537,"lb":0.16},{"n":3543,"lb":0.0408},{"n":3551,"lb":0.036},{"n":3559,"lb":0.0408},{"n":3567,"lb":0.036},{"n":3575,"lb":0.0376},{"n":3583,"lb":0.0328},{"n":3591,"lb":0.0296},{"n":3599,"lb":0.036},{"n":3607,"lb":0.0296},{"n":3615,"lb":0.0376},{"n":3623,"lb":0.0248},{"n":3631,"lb":0.0328},{"n":3637,"lb":0.0552},{"n":3643,"lb":0.0152},{"n":3651,"lb":0.0296},{"n":3659,"lb":0.0328},{"n":3667,"lb":0.044},{"n":3675,"lb":0.0136},{"n":3683,"lb":0.0424},{"n":3691,"lb":0.0264},{"n":3697,"lb":0.0344},{"n":3702,"lb":0.1304},{"n":3707,"lb":0.0136},{"n":3713,"lb":0.0424},{"n":3721,"lb":0.0696},{"n":3727,"lb":0.0136},{"n":3735,"lb":0.0392},{"n":3743,"lb":0.0232},{"n":3751,"lb":0.0408},{"n":3759,"lb":0.0328},{"n":3767,"lb":0.0296},{"n":3775,"lb":0.0376},{"n":3783,"lb":0.0264},{"n":3789,"lb":0.0504},{"n":3795,"lb":0.0312},{"n":3803,"lb":0.028},{"n":3811,"lb":0.0232},{"n":3819,"lb":0.0296},{"n":3827,"lb":0.02},{"n":3835,"lb":0.0344},{"n":3841,"lb":0.1176},{"n":3847,"lb":0.0088},{"n":3855,"lb":0.0376},{"n":3863,"lb":0.0296},{"n":3871,"lb":0.036},{"n":3879,"lb":0.0328},{"n":3887,"lb":0.0424},{"n":3895,"lb":0.044},{"n":3901,"lb":0.0944},{"n":3907,"lb":0.0344},{"n":3915,"lb":0.0424},{"n":3921,"lb":0.0136},{"n":3927,"lb":0.0056},{"n":3933,"lb":0.0456},{"n":3938,"lb":0.16},{"n":3943,"lb":0.0328},{"n":3951,"lb":0.0568},{"n":3959,"lb":0.0296},{"n":3967,"lb":0.0392},{"n":3975,"lb":0.0328},{"n":3983,"lb":0.0408},{"n":3991,"lb":0.0328},{"n":3999,"lb":0.036},{"n":4007,"lb":0.0232},{"n":4015,"lb":0.0472},{"n":4023,"lb":0.0296},{"n":4031,"lb":0.0376},{"n":4039,"lb":0.0264},{"n":4045,"lb":0.0408},{"n":4050,"lb":0.1568},{"n":4055,"lb":0.0296},{"n":4063,"lb":0.0392},{"n":4071,"lb":0.0536},{"n":4079,"lb":0.0264},{"n":4087,"lb":0.0504},{"n":4095,"lb":0.0296},{"n":4103,"lb":0.0424},{"n":4111,"lb":0.0488},{"n":4119,"lb":0.0296},{"n":4127,"lb":0.02},{"n":4135,"lb":0.044},{"n":4143,"lb":0.0392},{"n":4151,"lb":0.0424},{"n":4159,"lb":0.0296},{"n":4167,"lb":0.0408},{"n":4175,"lb":0.028},{"n":4183,"lb":0.0376},{"n":4191,"lb":0.052},{"n":4199,"lb":0.0264},{"n":4207,"lb":0.0136},{"n":4215,"lb":0.0344},{"n":4223,"lb":0.0392},{"n":4231,"lb":0.0296},{"n":4239,"lb":0.044},{"n":4247,"lb":0.0408},{"n":4255,"lb":0.0376},{"n":4263,"lb":0.0408},{"n":4271,"lb":0.0376},{"n":4279,"lb":0.0344},{"n":4287,"lb":0.0376},{"n":4295,"lb":0.0344},{"n":4303,"lb":0.0424},{"n":4311,"lb":0.0264},{"n":4317,"lb":0.0072},{"n":4322,"lb":0.0808},{"n":4327,"lb":0.0264},{"n":4335,"lb":0.0392},{"n":4343,"lb":0.0296},{"n":4351,"lb":0.068},{"n":4359,"lb":0.0232},{"n":4367,"lb":0.0424},{"n":4375,"lb":0.02},{"n":4381,"lb":0.0424},{"n":4386,"lb":0.0848},{"n":4391,"lb":0.0424},{"n":4399,"lb":0.0232},{"n":4407,"lb":0.0392},
{"n":4415,"lb":0.044},{"n":4421,"lb":0.0296},{"n":4429,"lb":0.0472},{"n":4437,"lb":0.0328},{"n":4443,"lb":0.0504},{"n":4449,"lb":0.0152},{"n":4455,"lb":0.1032},{"n":4461,"lb":0.1016},{"n":4467,"lb":0.0744},{"n":4473,"lb":0.0216},{"n":4479,"lb":0.0616},{"n":4485,"lb":0.0424},{"n":4491,"lb":0.028},{"n":4497,"lb":0.0856},{"n":4503,"lb":0.0168},{"n":4509,"lb":0.0328},{"n":4517,"lb":0.0456},{"n":4525,"lb":0.028},{"n":4533,"lb":0.0376},{"n":4541,"lb":0.0328},{"n":4549,"lb":0.0424},{"n":4555,"lb":0.0184},{"n":4561,"lb":0.0424},{"n":4569,"lb":0.036},{"n":4577,"lb":0.0264},{"n":4585,"lb":0.0376},{"n":4591,"lb":0.0744},{"n":4597,"lb":0.0296},{"n":4605,"lb":0.0392},{"n":4613,"lb":0.0328},{"n":4621,"lb":0.0456},{"n":4629,"lb":0.0296},{"n":4637,"lb":0.0248},{"n":4645,"lb":0.044},{"n":4653,"lb":0.036},{"n":4661,"lb":0.0424},{"n":4669,"lb":0.0328},{"n":4677,"lb":0.0424},{"n":4685,"lb":0.0296},{"n":4693,"lb":0.0392},{"n":4701,"lb":0.0328},{"n":4709,"lb":0.06},{"n":4717,"lb":0.0232},{"n":4725,"lb":0.0424},{"n":4733,"lb":0.0456},{"n":4741,"lb":0.0632},{"n":4749,"lb":0.012},{"n":4755,"lb":0.0424},{"n":4763,"lb":0.0488},{"n":4771,"lb":0.028},{"n":4779,"lb":0.0344},{"n":4787,"lb":0.0424},{"n":4795,"lb":0.036},{"n":4803,"lb":0.044},{"n":4811,"lb":0.0392},{"n":4819,"lb":0.0328},{"n":4827,"lb":0.0392},{"n":4835,"lb":0.0424},{"n":4841,"lb":0.06},{"n":4847,"lb":0.0296},{"n":4855,"lb":0.0424},{"n":4863,"lb":0.0296},{"n":4871,"lb":0.0504},{"n":4879,"lb":0.0216},{"n":4887,"lb":0.0424},{"n":4895,"lb":0.0488},{"n":4903,"lb":0.028},{"n":4911,"lb":0.0472},{"n":4919,"lb":0.0296},{"n":4927,"lb":0.0408},{"n":4935,"lb":0.036},{"n":4943,"lb":0.0424},{"n":4951,"lb":0.0296},{"n":4959,"lb":0.0536},{"n":4967,"lb":0.0264},{"n":4975,"lb":0.052},{"n":4983,"lb":0.0296},{"n":4991,"lb":0.0424},{"n":4999,"lb":0.0584},{"n":5007,"lb":0.0184},{"n":5015,"lb":0.0392},{"n":5023,"lb":0.0328},{"n":5031,"lb":0.0232},{"n":5039,"lb":0.0424},{"n":5047,"lb":0.036},{"n":5055,"lb":0.0456},{"n":5063,"lb":0.0312},{"n":5069,"lb":0.0536},{"n":5077,"lb":0.036},{"n":5085,"lb":0.0424},{"n":5093,"lb":0.0392},{"n":5101,"lb":0.0344},{"n":5109,"lb":0.0376},{"n":5117,"lb":0.0344},{"n":5125,"lb":0.0392},{"n":5133,"lb":0.0328},{"n":5141,"lb":0.0408},{"n":5149,"lb":0.036},{"n":5157,"lb":0.0424},{"n":5165,"lb":0.0344},{"n":5173,"lb":0.0408},{"n":5181,"lb":0.0344},{"n":5189,"lb":0.0376},{"n":5197,"lb":0.0232},{"n":5205,"lb":0.0424},{"n":5213,"lb":0.0376},{"n":5219,"lb":0.0472},{"n":5227,"lb":0.0328},{"n":5235,"lb":0.0408},{"n":5243,"lb":0.0344},{"n":5251,"lb":0.0456},{"n":5259,"lb":0.0376},{"n":5267,"lb":0.0424},{"n":5275,"lb":0.0296},{"n":5281,"lb":0.0504},{"n":5289,"lb":0.0312},{"n":5297,"lb":0.0424},{"n":5305,"lb":0.036},{"n":5313,"lb":0.0408},{"n":5321,"lb":0.0344},{"n":5329,"lb":0.0392},{"n":5335,"lb":0.036},{"n":5341,"lb":0.0776},{"n":5347,"lb":0.1368},{"n":5353,"lb":0.0424},{"n":5359,"lb":0.052},{"n":5365,"lb":0.0648},{"n":5371,"lb":0.0872},{"n":5377,"lb":0.0456},{"n":5385,"lb":0.06},{"n":5391,"lb":0.036},{"n":5397,"lb":0.0168},{"n":5405,"lb":0.0376},{"n":5413,"lb":0.0344},{"n":5421,"lb":0.0392},{"n":5429,"lb":0.0296},{"n":5437,"lb":0.0376},{"n":5445,"lb":0.0328},{"n":5453,"lb":0.0424},{"n":5461,"lb":0.0344},{"n":5469,"lb":0.044},{"n":5475,"lb":0.0744},{"n":5479,"lb":0.0944},{"n":5483,"lb":0.0136},{"n":5489,"lb":0.0344},{"n":5497,"lb":0.0424},{"n":5505,"lb":0.0296},{"n":5513,"lb":0.036},{"n":5521,"lb":0.0312},{"n":5529,"lb":0.0344},{"n":5537,"lb":0.0328},{"n":5545,"lb":0.0376},{"n":5553,"lb":0.0408},{"n":5561,"lb":0.0328},{"n":5569,"lb":0.052},{"n":5577,"lb":0.0296},{"n":5585,"lb":0.0392},{"n":5593,"lb":0.0344},{"n":5601,"lb":0.0424},{"n":5609,"lb":0.0392},{"n":5617,"lb":0.036},{"n":5625,"lb":0.0424},{"n":5633,"lb":0.0344},{"n":5641,"lb":0.028},{"n":5649,"lb":0.0392},{"n":5657,"lb":0.0424},{"n":5665,"lb":0.044},{"n":5673,"lb":0.0536},{"n":5681,"lb":0.0472},{"n":5689,"lb":0.0424},{"n":5697,"lb":0.0392},{"n":5705,"lb":0.0408},{"n":5713,"lb":0.0344},{"n":5721,"lb":0.0408},{"n":5729,"lb":0.0328},{"n":5737,"lb":0.0424},{"n":5745,"lb":0.0632},{"n":5751,"lb":0.0328},{"n":5759,"lb":0.0296},{"n":5767,"lb":0.02},{"n":5775,"lb":0.0232},{"n":5783,"lb":0.0296},{"n":5791,"lb":0.0408},{"n":5799,"lb":0.0408},{"n":5807,"lb":0.0328},{"n":5815,"lb":0.0296},{"n":5821,"lb":0.06},{"n":5826,"lb":0.0088}
]
},
"layer": [
{
  "data": {"name": "lb"},
  "mark": {"type": "line", "color": "#f2283f", "strokeWidth": 2.7, "clip": true},
  "encoding": {
    "x": {"field": "n", "type": "quantitative", "scale": {"domain": [0, 5826], "nice": false, "zero": false},
      "axis": {"title": null, "values": [0, 1159, 2317, 3501, 4667, 5826], "tickSize": 11, "labelPadding": 5, "labelFontSize": 24, "labelBaseline": "top", "labelAlign": "center", "labelLineHeight": 27, "labelFlush": false,
        "labelFontWeight": {"condition": {"test": "datum.value > 5800", "value": "bold"}, "value": "normal"},
        "labelExpr": "datum.value < 500 ? ['4/14/2011', '2:55 PM'] : datum.value < 2000 ? ['5/3/2011', '5:08 PM'] : datum.value < 3000 ? ['5/23/2011', '6:53 AM'] : datum.value < 4000 ? ['6/9/2011', '6:41 AM'] : datum.value < 5000 ? ['6/26/2011', '4:34 PM'] : ['7/13/2011', '1:25 PM']"}},
    "y": {"field": "lb", "type": "quantitative", "scale": {"domain": [0, 0.25], "nice": false},
      "axis": {"orient": "right", "title": "(lb/MBtu)", "values": [0, 0.01, 0.02, 0.03, 0.04, 0.05, 0.06, 0.07, 0.08, 0.09, 0.1, 0.11, 0.12, 0.13, 0.14, 0.15, 0.16, 0.17, 0.18, 0.19, 0.2, 0.21, 0.22, 0.23, 0.24, 0.25], "format": ".2f", "tickSize": 18, "labelPadding": 13, "titleAngle": 90, "titleX": 124, "titleY": 600, "titleAlign": "center", "titleBaseline": "middle"}}
  }
},
{
  "data": {"name": "ppm"},
  "mark": {"type": "line", "color": "#5ec75e", "strokeWidth": 2.7, "clip": true},
  "encoding": {
    "x": {"field": "n", "type": "quantitative"},
    "y": {"field": "ppm", "type": "quantitative", "scale": {"domain": [0, 1500], "nice": false},
      "axis": {"orient": "right", "offset": 161, "title": "(ppm)", "values": [0, 100, 200, 300, 400, 500, 600, 700, 800, 900, 1000, 1100, 1200, 1300, 1400, 1500], "format": ",.2f", "tickSize": 14, "labelAlign": "right", "labelPadding": 136, "titleAngle": 90, "titleX": 177, "titleY": 600, "titleAlign": "center", "titleBaseline": "middle"}}
  }
},
{
  "data": {"name": "mw"},
  "mark": {"type": "line", "color": "#4a78dc", "strokeWidth": 2.5, "clip": true},
  "encoding": {
    "x": {"field": "n", "type": "quantitative"},
    "y": {"field": "mw", "type": "quantitative", "scale": {"domain": [0, 565], "nice": false},
      "axis": {"orient": "left", "title": "(MW)", "values": [0, 30, 60, 90, 120, 150, 180, 210, 240, 270, 300, 330, 360, 390, 420, 450, 480, 510, 540], "format": ".2f", "tickSize": 15, "labelPadding": 14, "titleAngle": -90, "titleX": -159, "titleY": 600, "titleAlign": "center", "titleBaseline": "middle"}}
  }
},
{
  "data": {"values": [{"n": 3501}]},
  "mark": {"type": "rule", "color": "#e0661c", "strokeWidth": 4, "strokeDash": [15, 7]},
  "encoding": {"x": {"field": "n", "type": "quantitative"}}
},
{
  "data": {"values": [{"n": 5822}]},
  "mark": {"type": "rule", "color": "#111111", "strokeWidth": 3},
  "encoding": {"x": {"field": "n", "type": "quantitative"}}
},
{
  "data": {"values": [{"n": 4626, "mw": 490, "label": "NOx"}]},
  "mark": {"type": "text", "font": "Lato", "fontSize": 56, "align": "left", "baseline": "alphabetic", "color": "#000000"},
  "encoding": {
    "x": {"field": "n", "type": "quantitative"},
    "y": {"field": "mw", "type": "quantitative", "scale": {"domain": [0, 565], "nice": false}, "axis": null},
    "text": {"field": "label"}
  }
}
],
"resolve": {"scale": {"y": "independent"}, "axis": {"y": "independent"}}
}
